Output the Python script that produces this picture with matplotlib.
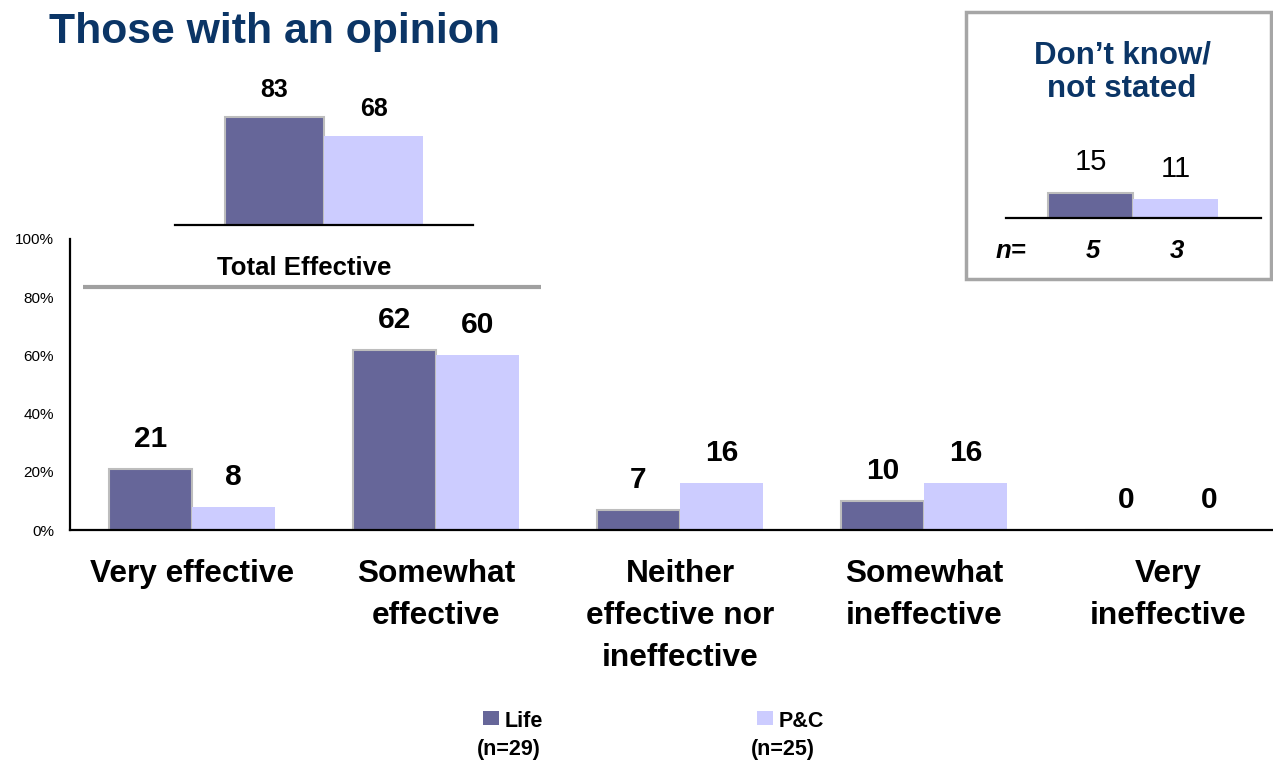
import matplotlib
matplotlib.use("Agg")
import matplotlib.pyplot as plt
from matplotlib.patches import Rectangle

plt.rcParams['font.family'] = ['Liberation Sans', 'DejaVu Sans']

# ---- data ----
categories = ["Very effective", "Somewhat\neffective", "Neither\neffective nor\nineffective",
              "Somewhat\nineffective", "Very\nineffective"]
life = [21, 62, 7, 10, 0]
pc = [8, 60, 16, 16, 0]
total_effective = [83, 68]          # Life, P&C
dont_know = [15, 11]                # Life, P&C
dont_know_n = [5, 3]
series = ["Life", "P&C"]
series_n = [29, 25]
colors = ["#666699", "#CCCCFF"]
yticks = [0, 20, 40, 60, 80, 100]

W, H = 1273, 761
fig = plt.figure(figsize=(W / 100, H / 100), dpi=100)
fig.patch.set_facecolor("white")


def px_axes(x0, x1, ybottom, height):
    """Create axes from pixel coordinates (top-left origin)."""
    return fig.add_axes([x0 / W, 1 - ybottom / H, (x1 - x0) / W, height / H])


navy = "#0B3566"

# ---- title ----
fig.text(49 / W, 1 - 43 / H, "Those with an opinion", fontsize=30.8, fontweight="bold",
         color=navy, ha="left", va="baseline")

# ---- main chart ----
ax = px_axes(70, 1273, 530, 291)
bw = 0.34
xs = list(range(len(categories)))
b1 = ax.bar([x - bw / 2 for x in xs], life, width=bw, color=colors[0],
            edgecolor="#BDBDBD", linewidth=1.5, zorder=2)
b2 = ax.bar([x + bw / 2 for x in xs], pc, width=bw, color=colors[1],
            linewidth=0, zorder=2)
for bars, vals in ((b1, life), (b2, pc)):
    for rect, v in zip(bars, vals):
        ax.annotate(f"{v}", xy=(rect.get_x() + rect.get_width() / 2, v),
                    xytext=(0, 22), textcoords="offset pixels",
                    ha="center", va="baseline", fontsize=21.5, fontweight="bold")

ax.set_xlim(-0.5, -0.5 + 1203 / 244)
ax.set_ylim(0, 100)
ax.set_yticks(yticks)
ax.set_yticklabels([f"{t}%" for t in yticks], fontsize=11)
ax.tick_params(axis="y", length=0, pad=11.5)
ax.set_xticks([])
for s in ("top", "right"):
    ax.spines[s].set_visible(False)
for s in ("left", "bottom"):
    ax.spines[s].set_linewidth(1.6)
    ax.spines[s].set_color("black")

for x, lab in zip(xs, categories):
    ax.annotate(lab, xy=(x, 0), xycoords=("data", "axes fraction"),
                xytext=(0, -29), textcoords="offset pixels",
                ha="center", va="top", fontsize=22.8, fontweight="bold",
                linespacing=1.52)

# bracket for the "Total Effective" group
ax.plot([-0.447, 1.43], [83.5, 83.5], color="#A0A0A0", linewidth=3, clip_on=False,
        solid_capstyle="butt", zorder=3)
ax.text(0.459, 87.6, "Total Effective", ha="center", va="baseline",
        fontsize=18.5, fontweight="bold")

# ---- Total Effective inset ----
axt = px_axes(175, 473, 225, 130.5)
tb = axt.bar([-0.5, 0.5], total_effective, width=1.0, color=colors,
             edgecolor=["#BDBDBD", "none"], linewidth=1.5)
for rect, v in zip(tb, total_effective):
    axt.annotate(f"{v}", xy=(rect.get_x() + rect.get_width() / 2, v),
                 xytext=(0, 20), textcoords="offset pixels",
                 ha="center", va="baseline", fontsize=18, fontweight="bold")
axt.set_xlim(-1.5, 1.5)
axt.set_ylim(0, 100)
axt.set_xticks([])
axt.set_yticks([])
for s in ("top", "right", "left"):
    axt.spines[s].set_visible(False)
axt.spines["bottom"].set_linewidth(1.6)
axt.patch.set_visible(False)

# ---- Don't know / not stated box ----
fig.add_artist(Rectangle((966 / W, 1 - 279 / H), 305 / W, 267 / H,
                         transform=fig.transFigure, fill=False,
                         edgecolor="#A6A6A6", linewidth=2.5))
fig.text(1122 / W, 1 - 63 / H, "Don\u2019t know/", fontsize=22.5, fontweight="bold",
         color=navy, ha="center", va="baseline")
fig.text(1122 / W, 1 - 97 / H, "not stated", fontsize=22.5, fontweight="bold",
         color=navy, ha="center", va="baseline")

axd = px_axes(1006, 1261, 218, 170)
db = axd.bar([-0.5, 0.5], dont_know, width=1.0, color=colors,
             edgecolor=["#BDBDBD", "none"], linewidth=1.5)
for rect, v in zip(db, dont_know):
    axd.annotate(f"{v}", xy=(rect.get_x() + rect.get_width() / 2, v),
                 xytext=(0, 22), textcoords="offset pixels",
                 ha="center", va="baseline", fontsize=21)
for rect, n in zip(db, dont_know_n):
    axd.annotate(f"{n}", xy=(rect.get_x() + rect.get_width() / 2, 0),
                 xytext=(2, -40), textcoords="offset pixels",
                 ha="center", va="baseline", fontsize=18.5,
                 fontweight="bold", style="italic")
axd.annotate("n=", xy=(0, 0), xycoords="axes fraction",
             xytext=(5, -40), textcoords="offset pixels",
             ha="center", va="baseline", fontsize=18.5,
             fontweight="bold", style="italic")
axd.set_xlim(-1.5, 1.51)
axd.set_ylim(0, 100)
axd.set_xticks([])
axd.set_yticks([])
for s in ("top", "right", "left"):
    axd.spines[s].set_visible(False)
axd.spines["bottom"].set_linewidth(1.6)
axd.patch.set_visible(False)

# ---- legend ----
legend_x = [483, 757]
for x0, name, n, c in zip(legend_x, series, series_n, colors):
    fig.add_artist(Rectangle((x0 / W, 1 - 725 / H), 16 / W, 14 / H,
                             transform=fig.transFigure, facecolor=c,
                             edgecolor="none"))
    fig.text((x0 + 22) / W, 1 - 727 / H, name, fontsize=15.5, fontweight="bold",
             ha="left", va="baseline")
    fig.text((x0 + 26) / W, 1 - 755 / H, f"(n={n})", fontsize=15.5,
             fontweight="bold", ha="center", va="baseline")

fig.savefig("out.png", dpi=100, facecolor="white")
